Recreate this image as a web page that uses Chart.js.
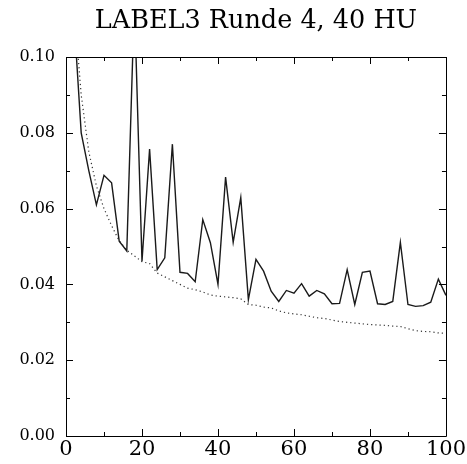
<!DOCTYPE html>
<html>
<head>
<meta charset="utf-8">
<title>LABEL3 Runde 4, 40 HU</title>
<script src="https://cdn.jsdelivr.net/npm/chart.js@4/dist/chart.umd.min.js"></script>
<style>
  html, body { margin: 0; padding: 0; background: #fff; }
  #wrap { width: 467px; height: 464px; position: relative; }
</style>
</head>
<body>
<div id="wrap"><canvas id="chart"></canvas></div>
<script>
// ------------------------- DATA -------------------------
const TITLE = 'LABEL3 Runde 4, 40 HU';

const xValues = [
  2, 4, 6, 8, 10, 12, 14, 16, 18, 20,
  22, 24, 26, 28, 30, 32, 34, 36, 38, 40,
  42, 44, 46, 48, 50, 52, 54, 56, 58, 60,
  62, 64, 66, 68, 70, 72, 74, 76, 78, 80,
  82, 84, 86, 88, 90, 92, 94, 96, 98, 100
];

// solid curve
const solidValues = [
  0.112, 0.080, 0.070, 0.061, 0.0688, 0.0668, 0.0514, 0.0488, 0.115, 0.0461,
  0.0757, 0.0439, 0.047, 0.077, 0.0432, 0.0429, 0.0407, 0.0571, 0.051, 0.040,
  0.0683, 0.0511, 0.0629, 0.036, 0.0466, 0.0435, 0.0382, 0.0355, 0.0384, 0.0377,
  0.0402, 0.0369, 0.0384, 0.0375, 0.0349, 0.0350, 0.0439, 0.0347, 0.0432, 0.0435,
  0.0349, 0.0347, 0.0355, 0.0511, 0.0347, 0.0342, 0.0344, 0.0353, 0.0414, 0.0371
];

// dotted curve
const dottedValues = [
  0.115, 0.090, 0.075, 0.066, 0.060, 0.0555, 0.0515, 0.049, 0.0475, 0.046,
  0.0455, 0.043, 0.042, 0.041, 0.040, 0.039, 0.0386, 0.038, 0.0372, 0.0369,
  0.0367, 0.0365, 0.0362, 0.0347, 0.0345, 0.034, 0.0338, 0.033, 0.0325, 0.0322,
  0.032, 0.0316, 0.0312, 0.031, 0.0306, 0.0302, 0.030, 0.0298, 0.0296, 0.0294,
  0.0293, 0.0292, 0.029, 0.0289, 0.0283, 0.0278, 0.0276, 0.0275, 0.0272, 0.0271
];

const xTickLabels = ['0', '20', '40', '60', '80', '100'];
const yTickLabels = ['0.00', '0.02', '0.04', '0.06', '0.08', '0.10'];

const FONT = "'DejaVu Serif', serif";

// ------------------------- BOX + INWARD TICKS -------------------------
// draws the frame and the small inward ticks (major + minor) on all four sides
const frameTicks = {
  id: 'frameTicks',
  afterDatasetsDraw(chart) {
    const { ctx, chartArea: a, scales } = chart;
    const xs = scales.x, ys = scales.y;
    ctx.save();
    ctx.strokeStyle = '#000';
    ctx.lineWidth = 1;
    ctx.beginPath();
    ctx.rect(Math.round(a.left) + 0.5, Math.round(a.top) + 0.5,
             Math.round(a.right - a.left), Math.round(a.bottom - a.top));
    ctx.stroke();

    const xMajor = xs.ticks.map(t => t.value);
    const yMajor = ys.ticks.map(t => t.value);
    const mids = arr => arr.slice(1).map((v, i) => (v + arr[i]) / 2);

    const tickX = (vals, len) => vals.forEach(v => {
      const px = Math.round(xs.getPixelForValue(v)) + 0.5;
      ctx.moveTo(px, a.bottom); ctx.lineTo(px, a.bottom - len);
      ctx.moveTo(px, a.top); ctx.lineTo(px, a.top + len);
    });
    const tickY = (vals, len) => vals.forEach(v => {
      const py = Math.round(ys.getPixelForValue(v)) + 0.5;
      ctx.moveTo(a.left, py); ctx.lineTo(a.left + len, py);
      ctx.moveTo(a.right, py); ctx.lineTo(a.right - len, py);
    });

    ctx.beginPath();
    tickX(xMajor, 7);
    tickX(mids(xMajor), 4);
    tickY(yMajor, 7);
    tickY(mids(yMajor), 4);
    ctx.stroke();
    ctx.restore();
  }
};

// ------------------------- CHART -------------------------
window.onload = () => {
  new Chart(document.getElementById('chart').getContext('2d'), {
    type: 'line',
    data: {
      datasets: [
        {
          label: 'solid',
          data: xValues.map((x, i) => ({ x, y: solidValues[i] })),
          borderColor: '#1a1a1a',
          borderWidth: 1.4,
          pointRadius: 0,
          tension: 0,
          fill: false
        },
        {
          label: 'dotted',
          data: xValues.map((x, i) => ({ x, y: dottedValues[i] })),
          borderColor: '#333',
          borderWidth: 1.2,
          borderDash: [1.2, 3],
          pointRadius: 0,
          tension: 0,
          fill: false
        }
      ]
    },
    options: {
      responsive: true,
      maintainAspectRatio: false,
      animation: false,
      layout: { padding: { left: 0, right: 21, top: 0, bottom: 0 } },
      plugins: {
        legend: { display: false },
        tooltip: { enabled: false },
        title: {
          display: true,
          fullSize: false, // centre over the plot box, not the canvas
          text: TITLE,
          color: '#000',
          font: { family: FONT, size: 25.5, weight: 'normal', lineHeight: 1.2 },
          padding: { top: 6, bottom: 20.4 }
        }
      },
      scales: {
        x: {
          type: 'linear',
          min: 0, max: 100,
          afterFit: s => { s.height = 28; },
          border: { display: false },
          grid: { display: false, drawTicks: false },
          ticks: {
            stepSize: 20,
            padding: 1,
            color: '#000',
            maxRotation: 0,
            font: { family: FONT, size: 21 },
            callback: (v, i) => xTickLabels[i]
          }
        },
        y: {
          type: 'linear',
          min: 0, max: 0.1,
          afterFit: s => { s.width = 66; },
          border: { display: false },
          grid: { display: false, drawTicks: false },
          ticks: {
            stepSize: 0.02,
            padding: 11,
            color: '#000',
            font: { family: FONT, size: 16 },
            callback: (v, i) => yTickLabels[i]
          }
        }
      }
    },
    plugins: [frameTicks]
  });
};
</script>
</body>
</html>
